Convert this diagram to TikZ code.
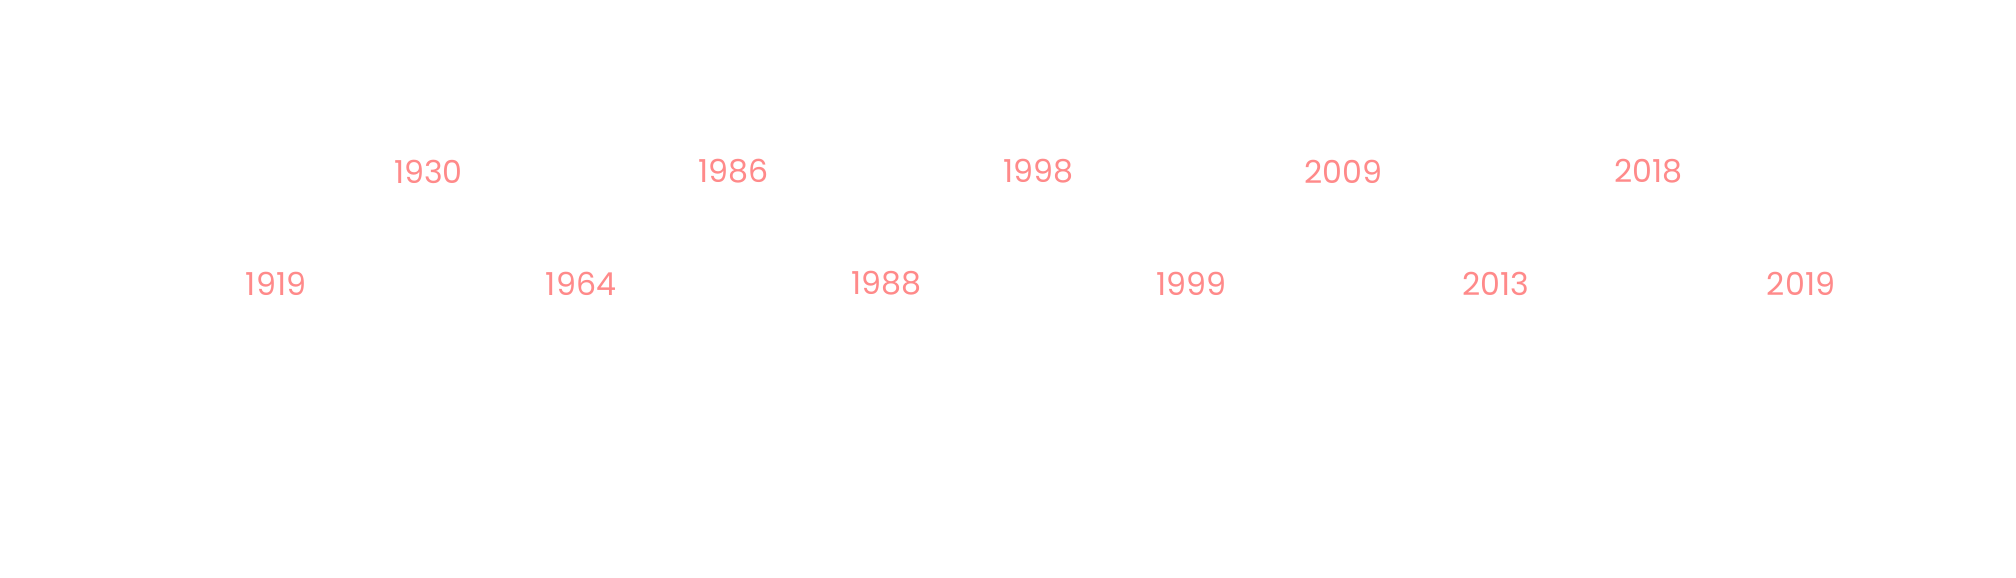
\documentclass[tikz,border=0pt]{standalone}
\usepackage{fontspec}
\setmainfont{Poppins}
\usepackage{xcolor}
\usepackage{tikz}

\definecolor{salmon}{HTML}{FF8A8A}

\begin{document}
\begin{tikzpicture}[
  x=1cm,y=1cm,
  font=\fontsize{9}{11}\selectfont,
  year/.style={text=salmon,inner sep=0pt,anchor=center}
]
\path[use as bounding box,fill=white] (0,0) rectangle (20.16,5.78);
% lower row
\node[year] (y1919) at (2.76,2.945) {1919};
\node[year] (y1964) at (5.81,2.945) {1964};
\node[year] (y1988) at (8.86,2.945) {1988};
\node[year] (y1999) at (11.91,2.945) {1999};
\node[year] (y2013) at (14.96,2.945) {2013};
\node[year] (y2019) at (18.01,2.945) {2019};
% upper row
\node[year] (y1930) at (4.285,4.065) {1930};
\node[year] (y1986) at (7.335,4.065) {1986};
\node[year] (y1998) at (10.385,4.065) {1998};
\node[year] (y2009) at (13.435,4.065) {2009};
\node[year] (y2018) at (16.485,4.065) {2018};
\end{tikzpicture}
\end{document}
